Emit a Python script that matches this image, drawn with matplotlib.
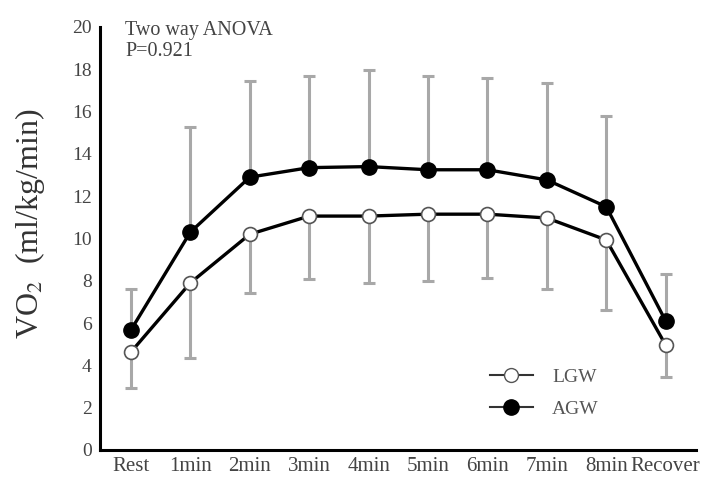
import numpy as np
import matplotlib
matplotlib.use('Agg')
import matplotlib.pyplot as plt
from matplotlib.lines import Line2D

plt.rcParams.update({
    'font.family': 'serif',
    'font.serif': ['Liberation Serif', 'DejaVu Serif'],
    'mathtext.fontset': 'stix',
})

# ── DATA ─────────────────────────────────────────────────────
stages = ['Rest', '1min', '2min', '3min', '4min', '5min', '6min', '7min', '8min', 'Recover']
agw_mean = [5.67, 10.3, 12.9, 13.35, 13.4, 13.25, 13.25, 12.77, 11.5, 6.1]
agw_upper = [7.6, 15.27, 17.45, 17.7, 17.97, 17.7, 17.6, 17.35, 15.8, 8.3]
lgw_mean = [4.63, 7.9, 10.2, 11.06, 11.06, 11.15, 11.15, 10.97, 9.93, 4.96]
lgw_lower = [2.93, 4.35, 7.4, 8.1, 7.9, 8.0, 8.13, 7.6, 6.6, 3.45]

x = np.arange(len(stages))
agw_err = np.array(agw_upper) - np.array(agw_mean)
lgw_err = np.array(lgw_mean) - np.array(lgw_lower)

GREY = '#a8a8a8'

fig = plt.figure(figsize=(7.17, 4.8), dpi=100)
ax = fig.add_axes([100 / 717, 30 / 480, 596 / 717, 423 / 480])

# error bars: AGW upward, LGW downward
ax.errorbar(x, agw_mean, yerr=[np.zeros_like(agw_err), agw_err], fmt='none',
            ecolor=GREY, elinewidth=2.2, capsize=4, capthick=2.2, zorder=1)
ax.errorbar(x, lgw_mean, yerr=[lgw_err, np.zeros_like(lgw_err)], fmt='none',
            ecolor=GREY, elinewidth=2.2, capsize=4, capthick=2.2, zorder=1)

ax.plot(x, lgw_mean, color='black', lw=2.4, marker='o', ms=10,
        mfc='white', mec='#555555', mew=1.2, zorder=3)
ax.plot(x, agw_mean, color='black', lw=2.4, marker='o', ms=11,
        mfc='black', mec='black', zorder=4)

ax.set_xlim(-0.52, 9.51)
ax.set_ylim(0, 20)
ax.set_yticks(range(0, 21, 2))
ax.set_xticks(x)
ax.set_xticklabels(stages)
ax.tick_params(axis='both', length=0, labelcolor='#444444')
ax.tick_params(axis='y', pad=6, labelsize=14)
ax.tick_params(axis='x', pad=5, labelsize=15)

for s in ['top', 'right']:
    ax.spines[s].set_visible(False)
for s in ['left', 'bottom']:
    ax.spines[s].set_linewidth(2.2)

ax.set_ylabel('VO$_2$  (ml/kg/min)', fontsize=23, color='#333333')
ax.yaxis.set_label_coords(-0.089, 0.535)

ax.text(0.042, 1.015, 'Two way ANOVA\nP=0.921', transform=ax.transAxes,
        fontsize=14.5, color='#444444', va='top', ha='left', linespacing=1.15)

handles = [
    Line2D([], [], color='#333333', lw=1.5, marker='o', ms=10,
           mfc='white', mec='#555555', label='LGW'),
    Line2D([], [], color='#333333', lw=1.5, marker='o', ms=11,
           mfc='black', mec='black', label='AGW'),
]
ax.legend(handles=handles, loc='lower left', bbox_to_anchor=(0.625, 0.035),
          frameon=False, fontsize=14, handlelength=2.2, labelspacing=0.75,
          handletextpad=1.0, labelcolor='#555555')

fig.savefig('out.png', dpi=100)
